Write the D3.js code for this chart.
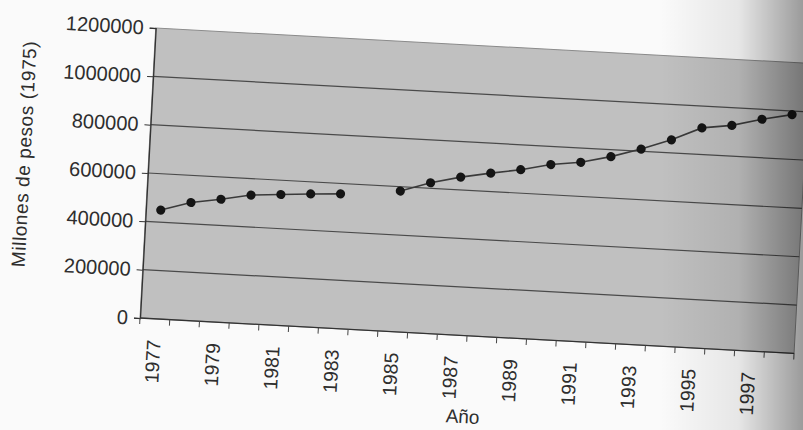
<!DOCTYPE html>
<html>
<head>
<meta charset="utf-8">
<script src="https://cdn.jsdelivr.net/npm/d3@7"></script>
<style>
  html, body { margin: 0; padding: 0; background: #fafafa; }
  svg { display: block; }
  text { font-family: "Liberation Sans", Arial, sans-serif; fill: #2e2e2e; }
</style>
</head>
<body>
<svg id="chart" width="803" height="430"></svg>
<script>
// ---- data ----
const years = ["1977","1978","1979","1980","1981","1982","1983","1984","1985","1986","1987",
               "1988","1989","1990","1991","1992","1993","1994","1995","1996","1997","1998"];
const values = [450000, 488000, 508000, 532000, 541000, 550000, 557000, null,
                582000, 623000, 653000, 676000, 697000, 725000, 741000, 771000,
                809000, 854000, 910000, 927000, 959000, 985000];
const yTicks = [0, 200000, 400000, 600000, 800000, 1000000, 1200000];
const xTickLabels = ["1977","1979","1981","1983","1985","1987","1989","1991","1993","1995","1997"];
const yTitle = "Millones de pesos (1975)";
const xTitle = "Año";

// ---- layout ----
const W = 655, H = 290.4;
const originX = 140, originY = 318, angle = 3.1;

const svg = d3.select("#chart");

// page shading gradient
const defs = svg.append("defs");
const grad = defs.append("linearGradient").attr("id", "shade")
  .attr("x1", "0").attr("x2", "1").attr("y1", "0").attr("y2", "0");
grad.append("stop").attr("offset", "0").attr("stop-color", "#000").attr("stop-opacity", 0);
grad.append("stop").attr("offset", "0.55").attr("stop-color", "#000").attr("stop-opacity", 0.08);
grad.append("stop").attr("offset", "1").attr("stop-color", "#000").attr("stop-opacity", 0.38);

const g0 = svg.append("g")
  .attr("transform", `translate(${originX},${originY}) rotate(${angle}) translate(0,${-H})`);

const x = d3.scaleBand().domain(years).range([0, W]).padding(0);
const y = d3.scaleLinear().domain([0, 1200000]).range([H, 0]);

// plot area
g0.append("rect").attr("x", 0).attr("y", 0).attr("width", W).attr("height", H)
  .attr("fill", "#c0c0c0").attr("stroke", "#8a8a8a").attr("stroke-width", 1);

// gridlines
g0.append("g").selectAll("line").data(yTicks.filter(d => d > 0 && d < 1200000)).join("line")
  .attr("x1", 0).attr("x2", W)
  .attr("y1", d => y(d)).attr("y2", d => y(d))
  .attr("stroke", "#4a4a4a").attr("stroke-width", 1.2);

// y axis
const yAxis = d3.axisLeft(y).tickValues(yTicks).tickSize(6).tickPadding(6)
  .tickFormat(d3.format("d"));
const ya = g0.append("g").call(yAxis);
ya.select(".domain").attr("stroke", "#333").attr("stroke-width", 1.3);
ya.selectAll(".tick line").attr("stroke", "#333");
ya.selectAll("text").style("font-size", "20px").attr("fill", "#2e2e2e");

// x axis (ticks between categories)
const xa = g0.append("g").attr("transform", `translate(0,${H})`);
xa.append("line").attr("x1", 0).attr("x2", W).attr("y1", 0).attr("y2", 0)
  .attr("stroke", "#333").attr("stroke-width", 1.3);
const bounds = years.map(d => x(d)).concat([W]);
xa.selectAll("line.tk").data(bounds).join("line").attr("class", "tk")
  .attr("x1", d => d).attr("x2", d => d).attr("y1", 0).attr("y2", 6)
  .attr("stroke", "#444");
xa.selectAll("text.lbl").data(xTickLabels).join("text").attr("class", "lbl")
  .attr("transform", d => `translate(${x(d) + x.bandwidth() / 2},21) rotate(-90)`)
  .attr("text-anchor", "end").attr("dy", "0.35em")
  .style("font-size", "19.5px").text(d => d);

// axis titles
g0.append("text")
  .attr("transform", `translate(-124.5,${H - 157.3}) rotate(-90)`)
  .attr("text-anchor", "middle").attr("dominant-baseline", "central")
  .attr("textLength", 226).attr("lengthAdjust", "spacing")
  .style("font-size", "19px").text(yTitle);
g0.append("text")
  .attr("x", W / 2).attr("y", H + 81)
  .attr("text-anchor", "middle").attr("dominant-baseline", "central")
  .style("font-size", "19px").text(xTitle);

// series line
const pts = years.map((d, i) => ({ year: d, value: values[i] }));
const line = d3.line()
  .defined(d => d.value != null)
  .x(d => x(d.year) + x.bandwidth() / 2)
  .y(d => y(d.value));
g0.append("path").datum(pts).attr("d", line)
  .attr("fill", "none").attr("stroke", "#3a3a3a").attr("stroke-width", 1.6);
g0.append("g").selectAll("circle").data(pts.filter(d => d.value != null)).join("circle")
  .attr("cx", d => x(d.year) + x.bandwidth() / 2)
  .attr("cy", d => y(d.value))
  .attr("r", 4.6).attr("fill", "#151515");

// right-side page shadow
svg.append("rect").attr("x", 660).attr("y", 0).attr("width", 143).attr("height", 430)
  .attr("fill", "url(#shade)");
</script>
</body>
</html>
